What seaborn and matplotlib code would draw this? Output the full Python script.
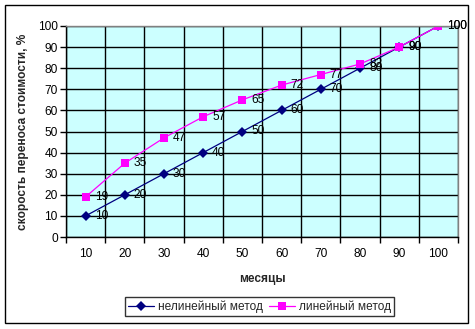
import matplotlib
matplotlib.use("Agg")
import matplotlib.pyplot as plt
import matplotlib.patches as mpatches
import seaborn as sns
import pandas as pd

months = ["10", "20", "30", "40", "50", "60", "70", "80", "90", "100"]
nonlinear = [10, 20, 30, 40, 50, 60, 70, 80, 90, 100]
linear = [19, 35, 47, 57, 65, 72, 77, 82, 90, 100]
y_ticks = [0, 10, 20, 30, 40, 50, 60, 70, 80, 90, 100]

sns.set_theme(style="white")
plt.rcParams["font.family"] = ["Liberation Sans", "DejaVu Sans"]

df = pd.DataFrame({
    "месяцы": months * 2,
    "value": nonlinear + linear,
    "method": ["нелинейный метод"] * len(months) + ["линейный метод"] * len(months),
})

W, H = 475, 329
FS = 8.6
fig = plt.figure(figsize=(W / 100, H / 100), dpi=100)
ax = fig.add_axes([66 / W, 1 - 237 / H, 392 / W, 211 / H])
ax.set_facecolor("#CCFFFF")

palette = {"нелинейный метод": "#000080", "линейный метод": "#FF00FF"}
sns.lineplot(data=df, x="месяцы", y="value", hue="method", style="method",
             markers={"нелинейный метод": "D", "линейный метод": "s"},
             dashes=False, palette=palette, linewidth=0.9,
             markersize=5, markeredgewidth=0, ax=ax, legend=True, sort=False)
# squares a bit larger
for line in ax.lines:
    if line.get_marker() == "s":
        line.set_markersize(6)

# value labels to the right of each point
for series, yvals in (("нелинейный метод", nonlinear), ("линейный метод", linear)):
    for i, v in enumerate(yvals):
        ax.annotate(str(v), (i, v), xytext=(6.5, 0), textcoords="offset points",
                    ha="left", va="center", fontsize=FS, color="black")

ax.set_xlim(-0.5, len(months) - 0.5)
ax.set_ylim(0, 100)
ax.set_yticks(y_ticks)
ax.set_xticks(range(len(months)))
ax.set_xticks([i - 0.5 for i in range(len(months) + 1)], minor=True)
ax.grid(False)
ax.grid(True, which="minor", axis="x", color="black", linewidth=1)
ax.grid(True, which="major", axis="y", color="black", linewidth=1)
ax.tick_params(axis="x", which="major", length=0, labelsize=FS, pad=8, colors="black")
ax.tick_params(axis="x", which="minor", length=4, width=1, direction="out",
               bottom=True, color="black")
ax.tick_params(axis="y", which="major", length=4, width=1, direction="out",
               left=True, labelsize=FS, pad=2, colors="black")
for side in ("left", "bottom"):
    ax.spines[side].set_color("black")
    ax.spines[side].set_linewidth(1)
for side in ("top", "right"):
    ax.spines[side].set_color("#808080")
    ax.spines[side].set_linewidth(1)

ax.set_xlabel("месяцы", fontsize=FS, fontweight="bold", labelpad=9)
ax.set_ylabel("скорость переноса стоимости, %", fontsize=FS, fontweight="bold", labelpad=6)

handles, labels = ax.get_legend_handles_labels()
ax.legend_.remove()
leg = fig.legend(handles, labels, ncol=2, loc="center",
                 bbox_to_anchor=(259.5 / W, 1 - 306.5 / H), fontsize=FS,
                 frameon=True, fancybox=False, edgecolor="black",
                 handlelength=2.2, columnspacing=0.5, borderpad=0.3,
                 handletextpad=0.3, borderaxespad=0)
leg.get_frame().set_linewidth(1)

fig.patches.append(mpatches.Rectangle((5 / W, 1 - 323 / H), 463 / W, 318 / H,
                                      transform=fig.transFigure, fill=False,
                                      edgecolor="black", linewidth=1))

fig.savefig("out.png", dpi=100)
